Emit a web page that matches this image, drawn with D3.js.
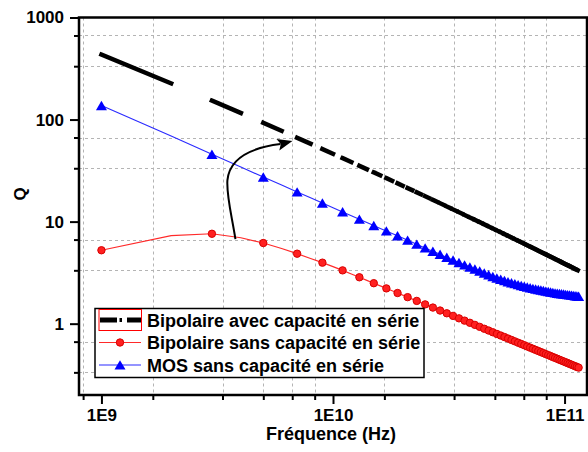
<!DOCTYPE html>
<html><head><meta charset="utf-8">
<script src="https://cdn.jsdelivr.net/npm/d3@7/dist/d3.min.js"></script>
<style>
body{margin:0;background:#fff}
svg{display:block}
text{font-family:"Liberation Sans",Arial,sans-serif;font-weight:bold;fill:#000}
</style>
</head><body>
<svg id="chart" width="588" height="452"></svg>
<script>
// ---- data (frequency in GHz, quality factor Q) ----
const freqGHz = [1,2,3,4,5,6,7,8,9,10,11,12,13,14,15,16,17,18,19,20,21,22,23,24,25,26,27,28,29,30,
31,32,33,34,35,36,37,38,39,40,41,42,43,44,45,46,47,48,49,50,51,52,53,54,55,56,57,58,59,60,
61,62,63,64,65,66,67,68,69,70,71,72,73,74,75,76,77,78,79,80,81,82,83,84,85,86,87,88,89,90,
91,92,93,94,95,96,97,98,99,100,101,102,103,104,105,106,107,108,109,110,111,112,113,114,115];

const qBipolaireAvec = [433,226.2,153.3,115.8,92.9,77.45,66.35,57.97,51.43,46.18,
41.88,38.29,35.25,32.64,30.38,28.40,26.65,25.10,23.71,22.46,
21.33,20.31,19.37,18.52,17.73,17.00,16.33,15.71,15.13,14.59,
14.08,13.61,13.16,12.75,12.35,11.98,11.63,11.30,10.99,10.69,
10.41,10.14,9.88,9.635,9.40,9.18,8.965,8.76,8.565,8.377,
8.197,8.024,7.857,7.698,7.544,7.395,7.252,7.115,6.981,6.853,
6.729,6.609,6.493,6.380,6.271,6.166,6.064,5.965,5.869,5.776,
5.685,5.598,5.512,5.430,5.349,5.270,5.194,5.120,5.047,4.976,
4.908,4.841,4.776,4.712,4.650,4.590,4.530,4.472,4.416,4.361,
4.307,4.254,4.203,4.152,4.103,4.055,4.008,3.962,3.917,3.873,
3.829,3.787,3.745,3.705,3.665,3.626,3.587,3.550,3.513,3.477,
3.441,3.406,3.372,3.338,3.306];

const qBipolaireSans = [5.24,7.3,7.6,6.95,6.17,5.45,4.85,4.35,3.96,3.62,
3.329,3.069,2.848,2.657,2.492,2.346,2.216,2.101,1.997,1.904,
1.819,1.741,1.671,1.605,1.545,1.490,1.438,1.390,1.345,1.303,
1.264,1.227,1.192,1.159,1.128,1.099,1.071,1.045,1.020,0.9958,
0.9731,0.9514,0.9307,0.9109,0.8919,0.8738,0.8564,0.8397,0.8237,0.8083,
0.7934,0.7791,0.7654,0.7522,0.7393,0.7270,0.7151,0.7035,0.6924,0.6816,
0.6711,0.6610,0.6512,0.6417,0.6325,0.6235,0.6148,0.6063,0.5981,0.5901,
0.5824,0.5748,0.5674,0.5603,0.5533,0.5464,0.5398,0.5334,0.5270,0.5209,
0.5149,0.5090,0.5033,0.4977,0.4922,0.4868,0.4816,0.4764,0.4714,0.4665,
0.4617,0.4571,0.4524,0.4479,0.4435,0.4392,0.4350,0.4308,0.4267,0.4228,
0.4188,0.4150,0.4112,0.4075,0.4039,0.4003,0.3969,0.3934,0.3900,0.3867,
0.3835,0.3803,0.3771,0.3740,0.3710];

const qMOS = [137,69.0,45.6,34.2,27.3,22.8,19.5,17.1,15.2,13.7,
12.45,11.4,10.55,9.8,9.15,8.58,8.10,7.65,7.25,6.90,
6.57,6.27,6.00,5.75,5.52,5.31,5.12,4.94,4.77,4.61,
4.46,4.33,4.20,4.08,3.97,3.86,3.76,3.67,3.58,3.50,
3.42,3.34,3.27,3.20,3.13,3.07,3.01,2.95,2.89,2.84,
2.80,2.76,2.72,2.68,2.64,2.61,2.57,2.54,2.51,2.48,
2.46,2.43,2.41,2.38,2.36,2.34,2.32,2.30,2.28,2.26,
2.24,2.23,2.21,2.20,2.18,2.17,2.16,2.14,2.13,2.12,
2.11,2.10,2.08,2.07,2.06,2.05,2.04,2.03,2.02,2.01,
2.00,1.99,1.98,1.98,1.97,1.96,1.96,1.95,1.95,1.94,
1.93,1.93,1.92,1.92,1.91,1.90,1.90,1.89,1.89,1.88,
1.87,1.87,1.86,1.86,1.85];

const seriesNames = ["Bipolaire avec capacité en série","Bipolaire sans capacité en série","MOS sans capacité en série"];

const xMajorTicks = [1e9,1e10,1e11];
const xMajorLabels = ["1E9","1E10","1E11"];
const xMinorTicks = [8.3333e8,1.6667e9,3.3333e9,5e9,6.6667e9,8.3333e9,1.6667e10,3.3333e10,5e10,6.6667e10,8.3333e10];
const yMajorTicks = [1,10,100,1000];
const yMajorLabels = ["1","10","100","1000"];
const yMinorTicks = [0.3333,0.6667,3.333,6.667,33.33,66.67,333.3,666.7];
const xTitle = "Fréquence (Hz)";
const yTitle = "Q";
// annotation arrow (data coordinates: GHz, Q)
const arrowPts = [[3.79,6.73],[3.65,11.6],[3.46,18.2],[3.50,25.5],[3.57,40.1],[4.32,52.6],[5.93,57.5]];
const arrowTip = [6.68,61.5];

// ---- layout ----
const svg = d3.select("#chart");
const L=79, R=587, T=17.5, B=395;
const x = d3.scaleLog().domain([8e8,1.25e11]).range([L,R]);
const y = d3.scaleLog().domain([0.2,1000]).range([B,T]);
const fx = g => x(g*1e9);

svg.append("rect").attr("width",588).attr("height",452).attr("fill","#fff");
svg.append("defs").append("clipPath").attr("id","clip")
  .append("rect").attr("x",L).attr("y",T).attr("width",R-L).attr("height",B-T);

// grid (minor positions only)
const grid = svg.append("g").attr("stroke","#b4b4b4").attr("stroke-width",1).attr("stroke-dasharray","3,3");
grid.selectAll("line.v").data(xMinorTicks).join("line")
  .attr("x1",d=>Math.round(x(d))+0.5).attr("x2",d=>Math.round(x(d))+0.5).attr("y1",T).attr("y2",B);
grid.selectAll("line.h").data(yMinorTicks).join("line")
  .attr("y1",d=>Math.round(y(d))+0.5).attr("y2",d=>Math.round(y(d))+0.5).attr("x1",L).attr("x2",R);

// axes
const xAxis = svg.append("g").attr("transform",`translate(0,${B})`)
  .call(d3.axisBottom(x).tickValues(xMajorTicks).tickFormat((d,i)=>xMajorLabels[i]).tickSize(9).tickPadding(5));
const xAxisMinor = svg.append("g").attr("transform",`translate(0,${B})`)
  .call(d3.axisBottom(x).tickValues(xMinorTicks).tickFormat("").tickSize(5));
const yAxis = svg.append("g").attr("transform",`translate(${L},0)`)
  .call(d3.axisLeft(y).tickValues(yMajorTicks).tickFormat((d,i)=>yMajorLabels[i]).tickSize(9).tickPadding(6));
const yAxisMinor = svg.append("g").attr("transform",`translate(${L},0)`)
  .call(d3.axisLeft(y).tickValues(yMinorTicks).tickFormat("").tickSize(5));
[xAxis,xAxisMinor,yAxis,yAxisMinor].forEach(a=>{
  a.select(".domain").remove();
  a.selectAll(".tick line").attr("stroke","#000").attr("stroke-width",2);
});
xAxis.selectAll("text").attr("font-size",17).attr("font-family","Liberation Sans, Arial, sans-serif").attr("font-weight","bold").attr("fill","#000");
yAxis.selectAll("text").attr("font-size",17).attr("font-family","Liberation Sans, Arial, sans-serif").attr("font-weight","bold").attr("fill","#000");

// data layer
const plot = svg.append("g").attr("clip-path","url(#clip)");
const dBlack = freqGHz.map((f,i)=>({f,q:qBipolaireAvec[i]}));
const dRed = freqGHz.map((f,i)=>({f,q:qBipolaireSans[i]}));
const dBlue = freqGHz.map((f,i)=>({f,q:qMOS[i]}));

// black: thick line, drawn on alternate segments (Origin dash look)
const blackSegs = dBlack.slice(0,-1).map((d,i)=>[d,dBlack[i+1]]).filter((s,i)=>i%2===0);
plot.append("g").selectAll("line").data(blackSegs).join("line")
  .attr("x1",s=>fx(s[0].f)).attr("y1",s=>y(s[0].q))
  .attr("x2",s=>fx(s[1].f)).attr("y2",s=>y(s[1].q))
  .attr("stroke","#000").attr("stroke-width",4.5).attr("stroke-linecap","square");

const line = d3.line().x(d=>fx(d.f)).y(d=>y(d.q));
// red
plot.append("path").datum(dRed).attr("d",line).attr("fill","none").attr("stroke","#ff2a2a").attr("stroke-width",1.2);
plot.append("g").selectAll("circle").data(dRed.filter((d,i)=>i%2===0)).join("circle")
  .attr("cx",d=>fx(d.f)).attr("cy",d=>y(d.q)).attr("r",3.7)
  .attr("fill","#ff2020").attr("stroke","#d80000").attr("stroke-width",1);
// blue
const tri = "M0,-4.8L5.5,4.6L-5.5,4.6Z";
plot.append("path").datum(dBlue).attr("d",line).attr("fill","none").attr("stroke","#2a2aff").attr("stroke-width",1.1);
plot.append("g").selectAll("path").data(dBlue.filter((d,i)=>i%2===0)).join("path")
  .attr("d",tri).attr("transform",d=>`translate(${fx(d.f)},${y(d.q)})`).attr("fill","#0000ff");

// annotation arrow
const ap = arrowPts.map(p=>[fx(p[0]),y(p[1])]);
const tip = [fx(arrowTip[0]),y(arrowTip[1])];
svg.append("path").attr("d",`M${ap[0]}C${ap[1]} ${ap[2]} ${ap[3]}C${ap[4]} ${ap[5]} ${ap[6]}`)
  .attr("fill","none").attr("stroke","#000").attr("stroke-width",2);
{
  const dx=tip[0]-ap[6][0], dy=tip[1]-ap[6][1], len=Math.hypot(dx,dy);
  const ux=dx/len, uy=dy/len, nx=-uy, ny=ux, hl=15, hw=6;
  const bx=tip[0]-ux*hl, by=tip[1]-uy*hl;
  svg.append("path").attr("d",`M${tip}L${bx+nx*hw},${by+ny*hw}L${bx-ux*(-3)},${by-uy*(-3)}L${bx-nx*hw},${by-ny*hw}Z`).attr("fill","#000");
}

// frame
svg.append("rect").attr("x",L).attr("y",T).attr("width",R-L).attr("height",B-T)
  .attr("fill","none").attr("stroke","#000").attr("stroke-width",2.5);

// titles
svg.append("text").attr("x",331).attr("y",440).attr("text-anchor","middle").attr("font-size",18).text(xTitle);
svg.append("text").attr("transform","translate(26,194) rotate(-90)").attr("text-anchor","middle").attr("font-size",17).text(yTitle);

// legend
const lg = svg.append("g");
lg.append("rect").attr("x",95).attr("y",308.5).attr("width",329).attr("height",69)
  .attr("fill","#fff").attr("stroke","#000").attr("stroke-width",1.5);
const rows=[320,342.5,365];
// black sample
lg.append("rect").attr("x",99).attr("y",309.5).attr("width",42.5).attr("height",21).attr("fill","none").attr("stroke","#ff0000").attr("stroke-width",1);
lg.append("line").attr("x1",100).attr("x2",117).attr("y1",rows[0]).attr("y2",rows[0]).attr("stroke","#000").attr("stroke-width",5);
lg.append("line").attr("x1",119.5).attr("x2",122).attr("y1",rows[0]).attr("y2",rows[0]).attr("stroke","#000").attr("stroke-width",4);
lg.append("line").attr("x1",127).attr("x2",141).attr("y1",rows[0]).attr("y2",rows[0]).attr("stroke","#000").attr("stroke-width",5);
// red sample
lg.append("line").attr("x1",99).attr("x2",141).attr("y1",rows[1]).attr("y2",rows[1]).attr("stroke","#ff2a2a").attr("stroke-width",1.2);
lg.append("circle").attr("cx",120).attr("cy",rows[1]).attr("r",3.7).attr("fill","#ff2020").attr("stroke","#d80000");
// blue sample
lg.append("line").attr("x1",99).attr("x2",141).attr("y1",rows[2]).attr("y2",rows[2]).attr("stroke","#2a2aff").attr("stroke-width",1.1);
lg.append("path").attr("d",tri).attr("transform",`translate(120,${rows[2]})`).attr("fill","#0000ff");
lg.selectAll("text.l").data(seriesNames).join("text")
  .attr("x",147).attr("y",(d,i)=>rows[i]+6.5).attr("font-size",18).text(d=>d);
</script>
</body></html>
